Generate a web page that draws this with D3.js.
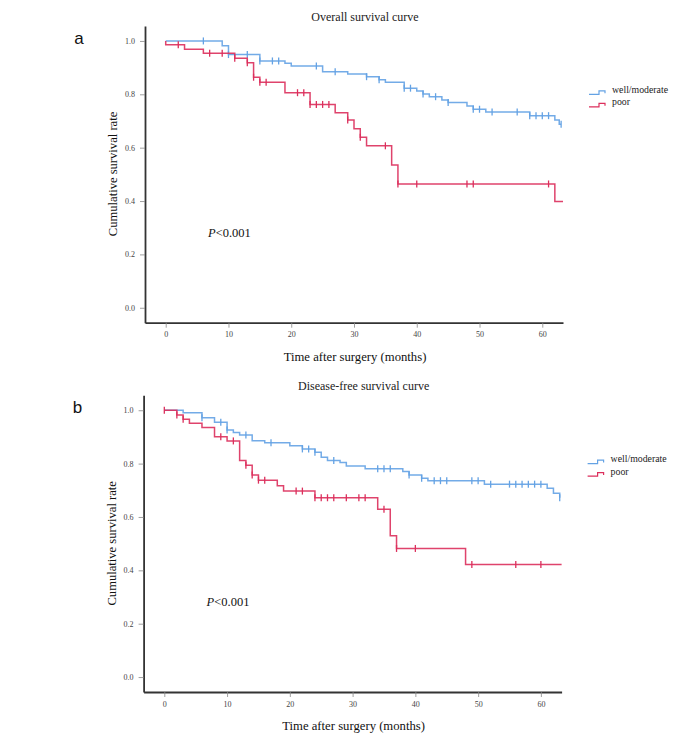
<!DOCTYPE html>
<html>
<head>
<meta charset="utf-8">
<script src="https://cdn.jsdelivr.net/npm/d3@7"></script>
<style>
  body { margin: 0; background: #fff; }
  svg text { font-family: "Liberation Serif", "Times New Roman", serif; }
</style>
</head>
<body>
<div id="chart"></div>
<script>
// --------------------
// DATA
// --------------------
const groups = ["well/moderate", "poor"];
const xTicks = [0, 10, 20, 30, 40, 50, 60];
const yTicks = [0.0, 0.2, 0.4, 0.6, 0.8, 1.0];

// Overall survival – well/moderate
const osWellTime = [9, 10, 15, 19, 20, 25, 29, 32, 34, 35, 38, 40, 41, 42, 44, 45, 48, 49, 51, 58, 62, 62.7];
const osWellSurv = [0.982, 0.949, 0.925, 0.916, 0.906, 0.885, 0.876, 0.866, 0.855, 0.845, 0.823, 0.812, 0.801, 0.791, 0.779, 0.769, 0.756, 0.744, 0.734, 0.720, 0.704, 0.688];
const osWellCens = [6, 10, 13, 15, 17, 18, 24, 27, 32, 34, 38, 39, 41, 43, 45, 49, 50, 52, 56, 58, 59, 60, 61, 63];
const osWellEnd = 63;

// Overall survival – poor
const osPoorTime = [0, 3, 6, 11, 13, 14, 15, 19, 23, 27, 29, 30, 31, 32, 36, 37, 62];
const osPoorSurv = [0.986, 0.969, 0.954, 0.935, 0.918, 0.864, 0.845, 0.806, 0.762, 0.731, 0.704, 0.671, 0.639, 0.607, 0.535, 0.464, 0.398];
const osPoorCens = [2, 7, 9, 11, 13, 14, 15, 16, 21, 22, 23, 24, 25, 26, 29, 31, 35, 37, 40, 48, 49, 61];
const osPoorEnd = 63.3;

// Disease-free survival – well/moderate
const dfsWellTime = [3, 6, 8, 10, 11, 12, 14, 16, 20, 22, 24, 25, 26, 28, 29, 32, 38, 39, 41, 42, 51, 61, 62, 63];
const dfsWellSurv = [0.991, 0.972, 0.955, 0.926, 0.917, 0.907, 0.886, 0.878, 0.867, 0.855, 0.843, 0.824, 0.812, 0.804, 0.791, 0.781, 0.770, 0.757, 0.745, 0.736, 0.723, 0.708, 0.689, 0.672];
const dfsWellCens = [6, 9, 10, 13, 17, 22, 23, 24, 27, 34, 35, 36, 39, 41, 43, 44, 45, 49, 50, 52, 55, 56, 57, 58, 59, 60, 63];
const dfsWellEnd = 63;

// Disease-free survival – poor
const dfsPoorTime = [2, 3, 4, 6, 8, 10, 12, 13, 14, 15, 18, 19, 24, 34, 36, 37, 48];
const dfsPoorSurv = [0.982, 0.966, 0.951, 0.935, 0.901, 0.885, 0.812, 0.794, 0.757, 0.738, 0.717, 0.697, 0.672, 0.629, 0.530, 0.482, 0.422];
const dfsPoorCens = [0, 2, 3, 9, 11, 13, 14, 15, 16, 21, 22, 24, 25, 26, 27, 29, 31, 32, 35, 37, 40, 49, 56, 60];
const dfsPoorEnd = 63.3;

const colors = ["#64a2e4", "#dc2f5c"];

// --------------------
// CHART
// --------------------
const width = 685;
const height = 748;

const svg = d3.select("#chart")
  .append("svg")
  .attr("width", width)
  .attr("height", height);

function survAt(times, surv, t) {
  let s = 1;
  times.forEach((d, i) => { if (d <= t) s = surv[i]; });
  return s;
}

function drawPanel(opts) {
  const g = svg.append("g")
    .attr("transform", `translate(${opts.dx},${opts.dy})`);

  const x = d3.scaleLinear()
    .domain([-3.3, 63.3])
    .range([145, 563]);

  const y = d3.scaleLinear()
    .domain([-0.056, 1.056])
    .range([322.7, 26]);

  // axes
  const xAxis = g.append("g")
    .attr("transform", `translate(0,${y.range()[0]})`)
    .call(d3.axisBottom(x).tickValues(xTicks).tickSize(5).tickSizeOuter(0).tickPadding(4));

  const yAxis = g.append("g")
    .attr("transform", `translate(${x.range()[0]},0)`)
    .call(d3.axisLeft(y).tickValues(yTicks).tickFormat(d3.format(".1f"))
      .tickSize(5).tickSizeOuter(0).tickPadding(5));

  [xAxis, yAxis].forEach(a => {
    a.select(".domain").attr("stroke", "#333").attr("stroke-width", 1.8);
    a.selectAll(".tick line").attr("stroke", "#888").attr("stroke-width", 0.8);
    a.selectAll(".tick text")
      .attr("fill", "#444")
      .style("font-family", "Liberation Serif, serif")
      .style("font-size", "8px");
  });

  // curves
  opts.series.forEach((s, i) => {
    let d = `M${x(0)},${y(1)}`;
    s.time.forEach((t, j) => {
      d += `H${x(t)}V${y(s.surv[j])}`;
    });
    d += `H${x(s.end)}`;

    g.append("path")
      .attr("d", d)
      .attr("fill", "none")
      .attr("stroke", colors[i])
      .attr("stroke-width", 1.5)
      .attr("stroke-opacity", 0.9);

    g.selectAll(null)
      .data(s.cens)
      .enter()
      .append("line")
      .attr("x1", t => x(t))
      .attr("x2", t => x(t))
      .attr("y1", t => y(survAt(s.time, s.surv, t)) - 3.5)
      .attr("y2", t => y(survAt(s.time, s.surv, t)) + 3.5)
      .attr("stroke", colors[i])
      .attr("stroke-width", 1.3);
  });

  // titles
  g.append("text")
    .attr("x", 365)
    .attr("y", 21)
    .attr("text-anchor", "middle")
    .style("font-size", "12px")
    .attr("fill", "#222")
    .text(opts.title);

  g.append("text")
    .attr("x", 355)
    .attr("y", 361)
    .attr("text-anchor", "middle")
    .style("font-size", "12.7px")
    .attr("fill", "#111")
    .text("Time after surgery (months)");

  g.append("text")
    .attr("transform", "translate(117,174) rotate(-90)")
    .attr("text-anchor", "middle")
    .style("font-size", "12.6px")
    .attr("fill", "#111")
    .text("Cumulative survival rate");

  // p value
  const p = g.append("text")
    .attr("x", 208)
    .attr("y", 237)
    .style("font-size", "12.5px")
    .attr("fill", "#111");
  p.append("tspan").style("font-style", "italic").text("P");
  p.append("tspan").text("<0.001");

  // panel letter
  g.append("text")
    .attr("x", 79)
    .attr("y", 44)
    .attr("text-anchor", "middle")
    .style("font-family", "Liberation Sans, Arial, sans-serif")
    .style("font-size", "17px")
    .attr("fill", "#111")
    .text(opts.letter);

  // legend
  groups.forEach((name, i) => {
    const ly = 94.3 + i * 12.5;
    g.append("path")
      .attr("d", `M589,${ly}H599V${ly - 3.5}H605V${ly - 1}`)
      .attr("fill", "none")
      .attr("stroke", colors[i])
      .attr("stroke-width", 1.2);
    g.append("text")
      .attr("x", 612)
      .attr("y", ly - 1.5)
      .style("font-size", "9.8px")
      .attr("fill", "#222")
      .text(name);
  });
}

drawPanel({
  dx: 0, dy: 0,
  title: "Overall survival curve",
  letter: "a",
  series: [
    { time: osWellTime, surv: osWellSurv, cens: osWellCens, end: osWellEnd },
    { time: osPoorTime, surv: osPoorSurv, cens: osPoorCens, end: osPoorEnd }
  ]
});

drawPanel({
  dx: -1.4, dy: 369.3,
  title: "Disease-free survival curve",
  letter: "b",
  series: [
    { time: dfsWellTime, surv: dfsWellSurv, cens: dfsWellCens, end: dfsWellEnd },
    { time: dfsPoorTime, surv: dfsPoorSurv, cens: dfsPoorCens, end: dfsPoorEnd }
  ]
});
</script>
</body>
</html>
